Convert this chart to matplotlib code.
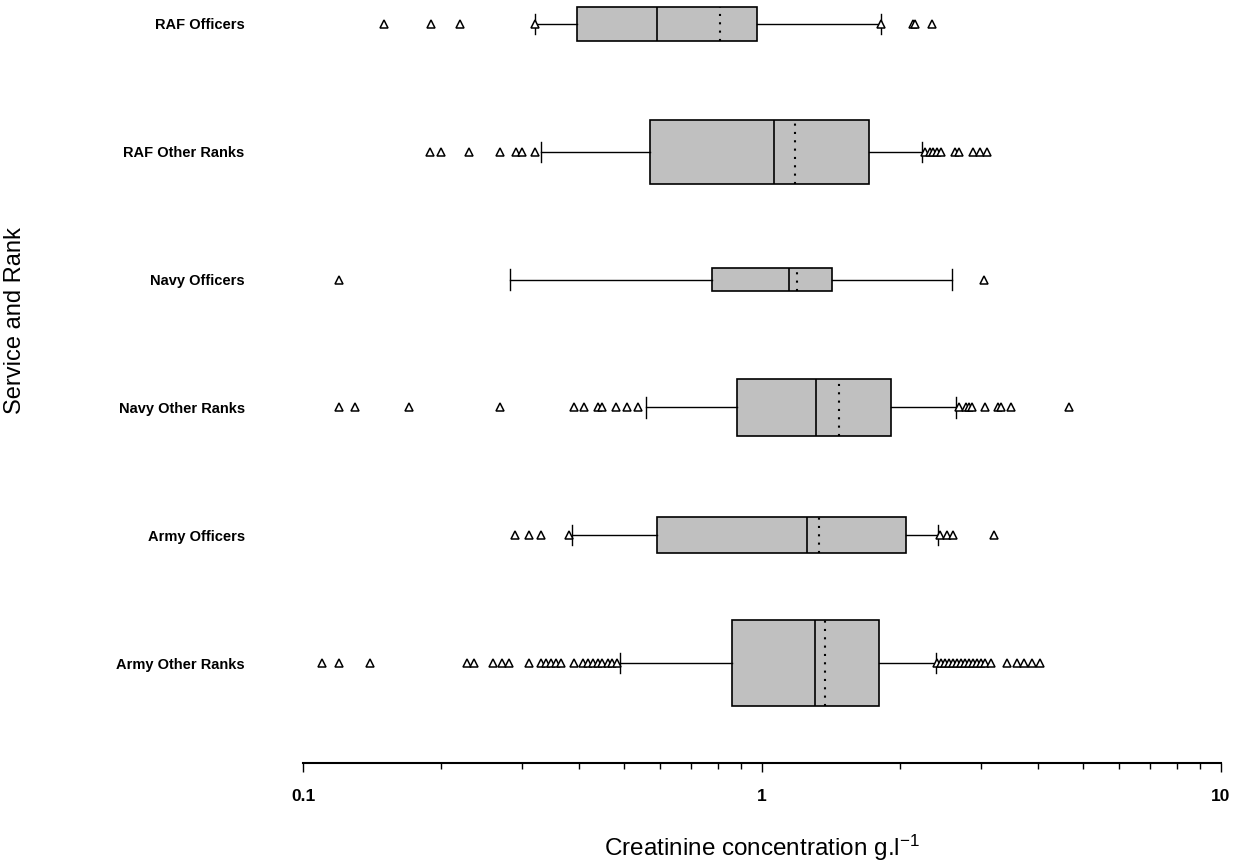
import matplotlib

matplotlib.use("Agg")
import matplotlib.pyplot as plt
from matplotlib.ticker import FixedFormatter, FixedLocator, NullFormatter

plt.rcParams["font.family"] = ["Liberation Sans", "DejaVu Sans"]
plt.rcParams["mathtext.default"] = "regular"

# ── data, bottom row first (g/l) ──
GROUPS = [
    "Army Other Ranks",
    "Army Officers",
    "Navy Other Ranks",
    "Navy Officers",
    "RAF Other Ranks",
    "RAF Officers",
]
WHISLO = [0.491, 0.386, 0.559, 0.283, 0.330, 0.320]
Q1 = [0.861, 0.590, 0.882, 0.777, 0.571, 0.395]
MEDIAN = [1.305, 1.254, 1.311, 1.147, 1.061, 0.590]
MEAN = [1.372, 1.330, 1.475, 1.192, 1.179, 0.812]
Q3 = [1.794, 2.055, 1.910, 1.421, 1.707, 0.975]
WHISHI = [2.395, 2.419, 2.650, 2.590, 2.228, 1.816]

FLIERS_ARMY_OR = [
    0.110, 0.120, 0.140, 0.228, 0.236, 0.260, 0.271, 0.281, 0.310, 0.330,
    0.338, 0.347, 0.355, 0.364, 0.389, 0.408, 0.418, 0.428, 0.439, 0.449,
    0.461, 0.472, 0.484,
    2.41, 2.45, 2.50, 2.56, 2.61, 2.66, 2.71, 2.77, 2.83, 2.88, 2.94,
    3.00, 3.06, 3.15, 3.42, 3.59, 3.72, 3.88, 4.03,
]
FLIERS_ARMY_OFF = [0.290, 0.310, 0.330, 0.380, 2.44, 2.53, 2.61, 3.21]
FLIERS_NAVY_OR = [
    0.120, 0.130, 0.170, 0.269, 0.390, 0.410, 0.440, 0.449, 0.480, 0.507,
    0.538,
    2.69, 2.78, 2.83, 2.87, 3.06, 3.27, 3.31, 3.48, 4.67,
]
FLIERS_NAVY_OFF = [0.120, 3.05]
FLIERS_RAF_OR = [
    0.189, 0.200, 0.230, 0.269, 0.291, 0.300, 0.320,
    2.26, 2.32, 2.36, 2.41, 2.46, 2.63, 2.68, 2.88, 2.99, 3.09,
]
FLIERS_RAF_OFF = [0.150, 0.190, 0.220, 0.320, 1.82, 2.13, 2.15, 2.35]
FLIERS = [
    FLIERS_ARMY_OR,
    FLIERS_ARMY_OFF,
    FLIERS_NAVY_OR,
    FLIERS_NAVY_OFF,
    FLIERS_RAF_OR,
    FLIERS_RAF_OFF,
]

X_TICKS = [0.1, 1, 10]
X_TICK_LABELS = ["0.1", "1", "10"]

# box heights (variable width boxes), in row units
BOX_WIDTHS = [0.67, 0.28, 0.45, 0.18, 0.50, 0.26]

stats = []
for i, name in enumerate(GROUPS):
    stats.append(
        dict(
            label=name,
            whislo=WHISLO[i],
            q1=Q1[i],
            med=MEDIAN[i],
            mean=MEAN[i],
            q3=Q3[i],
            whishi=WHISHI[i],
            fliers=FLIERS[i],
        )
    )

fig = plt.figure(figsize=(12.39, 8.65), dpi=100)
ax = fig.add_axes([303 / 1239, 1 - 763 / 865, 918 / 1239, 763 / 865])
ax.set_xscale("log")

ax.bxp(
    stats,
    positions=list(range(1, len(GROUPS) + 1)),
    widths=BOX_WIDTHS,
    orientation="horizontal",
    patch_artist=True,
    showmeans=True,
    meanline=True,
    capwidths=[0.16] * len(GROUPS),
    boxprops=dict(facecolor="#C0C0C0", edgecolor="black", linewidth=1.2),
    medianprops=dict(color="black", linewidth=1.2),
    meanprops=dict(color="black", linewidth=1.5, linestyle=(0, (1, 3))),
    whiskerprops=dict(color="black", linewidth=1.0),
    capprops=dict(color="black", linewidth=1.0),
    flierprops=dict(
        marker="^",
        markersize=5.5,
        markerfacecolor="white",
        markeredgecolor="black",
        markeredgewidth=1.1,
        linestyle="none",
    ),
)

ax.set_xlim(0.1, 10)
ax.set_ylim(1 - 100 / 127.8, 6 + 24 / 127.8)

ax.xaxis.set_major_locator(FixedLocator(X_TICKS))
ax.xaxis.set_major_formatter(FixedFormatter(X_TICK_LABELS))
ax.xaxis.set_minor_formatter(NullFormatter())
ax.tick_params(axis="x", which="major", direction="out", length=6.5, width=1.0,
               pad=12, labelsize=12.5)
ax.tick_params(axis="x", which="minor", direction="out", length=4.3, width=1.0)
for lbl in ax.get_xticklabels():
    lbl.set_fontweight("bold")

ax.tick_params(axis="y", length=0, pad=42, labelsize=10.5)
for lbl in ax.get_yticklabels():
    lbl.set_fontweight("bold")

for side in ("top", "right", "left"):
    ax.spines[side].set_visible(False)
ax.spines["bottom"].set_linewidth(1.5)

ax.set_xlabel("Creatinine concentration g.l$^{-1}$", fontsize=17.5)
ax.xaxis.set_label_coords(0.5, -0.092)
ax.set_ylabel("Service and Rank", fontsize=17)
ax.yaxis.set_label_coords(-0.302, 0.58)

fig.savefig("out.png", dpi=100)
